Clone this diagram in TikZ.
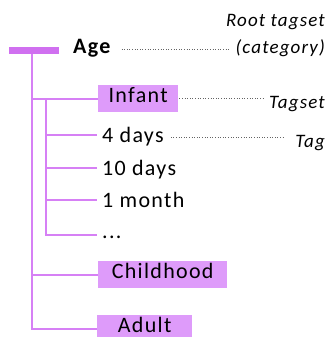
\documentclass[tikz,border=0pt]{standalone}
\usepackage{fontspec}
\setmainfont{Carlito}[LetterSpace=6.0]
\definecolor{treeline}{RGB}{214,128,245}
\definecolor{treebar}{RGB}{208,112,240}
\definecolor{boxfill}{RGB}{222,155,250}
\definecolor{dotgray}{RGB}{100,100,100}
\begin{document}
\begin{tikzpicture}[x=1pt,y=-1pt,
  branchline/.style={draw=treeline, line width=2.4pt},
  dotline/.style={draw=dotgray, line width=1pt, dash pattern=on 1pt off 1.6pt},
  tagbox/.style={fill=boxfill, inner sep=0pt, minimum height=27pt, anchor=north west,
    font=\fontsize{22}{26}\selectfont, text height=14pt, text depth=7pt},
  tagtxt/.style={inner xsep=5pt, inner ysep=0pt, anchor=base west,
    font=\fontsize{22}{26}\selectfont, text height=14pt, text depth=0pt},
  note/.style={inner sep=0pt, anchor=base east, font=\fontsize{19}{23}\selectfont\itshape}]
\useasboundingbox (0,0) rectangle (328,337);
% root bar
\node[fill=treebar, inner sep=0pt, minimum width=50pt, minimum height=7pt, anchor=north west] (root) at (9,47) {};
\coordinate (trunk) at (32,54);
% root label
\node[inner sep=0pt, anchor=base west, font=\fontsize{22}{26}\selectfont\bfseries] (age) at (73,53) {Age};
% boxes
\node[tagbox, minimum width=80pt] (infant) at (98,85) {Infant};
\node[tagbox, minimum width=129pt] (child) at (98,261) {Childhood};
\node[tagbox, minimum width=95pt] (adult) at (97,315) {Adult};
% leaves
\node[tagtxt] (d4) at (97,142) {4 days};
\node[tagtxt] (d10) at (97,175) {10 days};
\node[tagtxt] (m1) at (97,207) {1 month};
\node[tagtxt, text height=6pt] (more) at (97,238) {...};
% notes
\node[note] (roottag) at (325,27) {Root tagset};
\node[note] (cat) at (325,53) {(category)};
\node[note] (tagset) at (325,108) {Tagset};
\node[note] (tag) at (325,147) {Tag};
% tree connectors
\draw[branchline] (trunk) |- (infant.west);
\draw[branchline] (trunk) |- (child.west);
\draw[branchline] (trunk) |- (adult.west);
\coordinate (branch) at (46,98);
\draw[branchline] (branch) |- (d4.west);
\draw[branchline] (branch) |- (d10.west);
\draw[branchline] (branch) |- (m1.west);
\draw[branchline] (branch) |- (more.west);
% dotted leaders
\draw[dotline] ([shift={(11pt,3pt)}]age.base east) -- ([shift={(-6pt,3pt)}]cat.base west);
\draw[dotline, shorten <=1pt, shorten >=4pt] (infant.east) -- (infant.east -| tagset.west);
\draw[dotline, shorten <=2pt, shorten >=11pt] ([yshift=-2pt]d4.east) -- ([yshift=-2pt]d4.east -| tag.west);
\end{tikzpicture}
\end{document}
